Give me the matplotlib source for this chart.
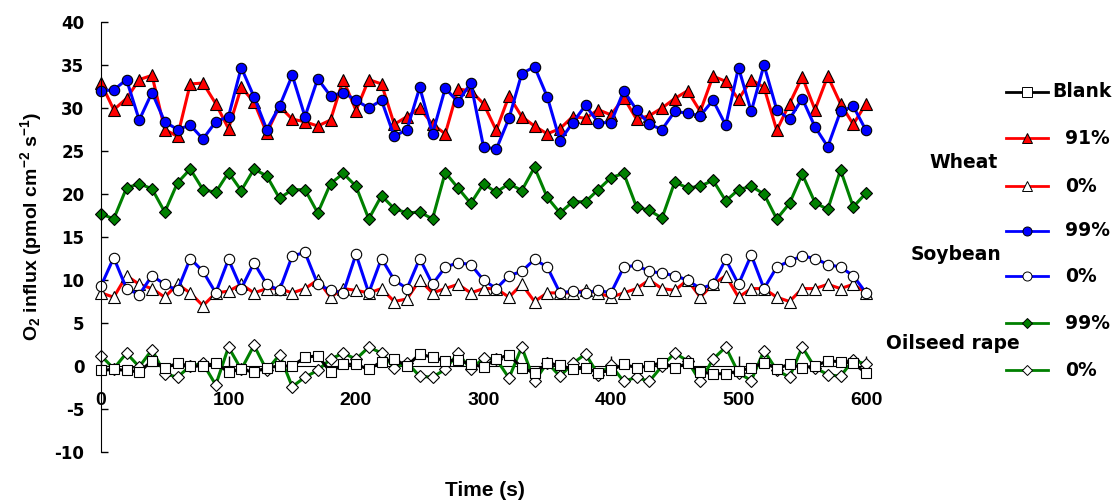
import matplotlib
matplotlib.use('Agg')
import matplotlib.pyplot as plt

time_s = list(range(0, 601, 10))

wheat_91 = [32.9, 29.8, 31.1, 33.3, 33.8, 27.5, 26.7, 32.8, 32.9, 30.5, 27.6, 32.4, 30.7, 27.1, 30.2, 28.7, 28.4, 27.9, 28.6, 33.3,
            29.7, 33.3, 32.8, 28.1, 29.0, 30.0, 28.1, 27.0, 32.2, 32.0, 30.5, 27.4, 31.4, 29.0, 27.9, 27.0, 27.6, 29.0, 28.8, 29.8,
            29.2, 31.2, 28.7, 29.1, 30.0, 31.1, 32.0, 29.6, 33.7, 33.1, 31.0, 33.3, 32.4, 27.4, 30.5, 33.6, 29.8, 33.7, 30.5, 28.1, 30.5]
wheat_0 = [8.5, 8.0, 10.5, 9.5, 9.0, 8.0, 9.5, 8.5, 7.0, 8.5, 8.7, 9.5, 8.5, 9.0, 9.0, 8.5, 9.0, 10.0, 8.0, 9.0,
           8.8, 8.5, 9.0, 7.5, 7.8, 10.0, 8.5, 9.0, 9.5, 8.5, 9.0, 9.0, 8.0, 9.5, 7.5, 8.5, 8.5, 8.5, 8.8, 8.5,
           8.0, 8.5, 9.0, 10.0, 9.0, 8.8, 10.0, 8.0, 9.5, 10.5, 8.0, 9.0, 9.0, 8.0, 7.5, 9.0, 9.0, 9.5, 9.0, 9.5, 8.5]
soy_99 = [32.0, 32.1, 33.3, 28.6, 31.8, 28.4, 27.5, 28.0, 26.4, 28.4, 29.0, 34.7, 31.3, 27.5, 30.2, 33.8, 29.0, 33.4, 31.4, 31.8,
          30.9, 30.0, 30.9, 26.7, 27.5, 32.4, 27.0, 32.3, 30.7, 32.9, 25.5, 25.2, 28.8, 34.0, 34.8, 31.3, 26.2, 28.3, 30.3, 28.3,
          28.3, 32.0, 29.8, 28.1, 27.5, 29.6, 29.4, 29.1, 30.9, 28.0, 34.7, 29.6, 35.0, 29.8, 28.7, 31.1, 27.8, 25.5, 29.6, 30.2, 27.4]
soy_0 = [9.3, 12.6, 9.0, 8.3, 10.5, 9.5, 8.8, 12.5, 11.0, 8.5, 12.4, 9.0, 12.0, 9.5, 8.8, 12.8, 13.2, 9.5, 8.8, 8.5,
         13.0, 8.5, 12.5, 10.0, 9.0, 12.5, 9.5, 11.5, 12.0, 11.8, 10.0, 9.0, 10.5, 11.0, 12.4, 11.5, 8.5, 8.7, 8.5, 8.8,
         8.5, 11.5, 11.7, 11.0, 10.8, 10.5, 10.0, 9.0, 9.5, 12.4, 9.5, 12.9, 9.0, 11.5, 12.2, 12.8, 12.5, 11.8, 11.5, 10.5, 8.5]
oil_99 = [17.7, 17.1, 20.7, 21.2, 20.6, 17.9, 21.3, 22.9, 20.5, 20.2, 22.5, 20.4, 22.9, 22.1, 19.5, 20.5, 20.5, 17.8, 21.2, 22.4,
          20.9, 17.1, 19.8, 18.3, 17.8, 17.9, 17.1, 22.5, 20.7, 18.9, 21.2, 20.2, 21.2, 20.4, 23.1, 19.6, 17.8, 19.1, 19.1, 20.5,
          21.9, 22.4, 18.5, 18.1, 17.2, 21.4, 20.7, 20.9, 21.6, 19.2, 20.5, 20.9, 20.0, 17.1, 18.9, 22.3, 19.0, 18.2, 22.8, 18.5, 20.1]
oil_0 = [1.2, -0.3, 1.5, -0.1, 1.9, -0.9, -1.3, 0.0, 0.3, -2.2, 2.2, -0.4, 2.4, -0.5, 1.3, -2.4, -1.3, -0.5, 0.8, 1.5,
         0.8, 2.2, 1.5, -0.2, 0.4, -1.2, -1.3, -0.4, 1.5, -0.4, 0.9, 0.8, -1.4, 2.2, -1.8, 0.4, -1.2, 0.3, 1.4, -1.0,
         0.1, -1.8, -1.3, -1.8, 0.0, 1.5, 0.6, -1.8, 0.8, 2.2, -0.8, -1.7, 1.8, -0.5, -1.3, 2.2, -0.2, -1.0, -1.2, 0.7, 0.2]
blank = [-0.5, -0.4, -0.5, -0.7, 0.6, -0.2, 0.3, 0.0, 0.0, 0.3, -0.7, -0.4, -0.7, -0.2, 0.0, 0.0, 1.0, 1.2, -0.7, 0.2,
         0.2, -0.4, 0.5, 0.8, 0.0, 1.4, 1.0, 0.6, 0.7, 0.2, -0.1, 0.8, 1.3, -0.2, -0.8, 0.3, 0.1, -0.4, -0.2, -0.8,
         -0.5, 0.2, -0.2, 0.0, 0.4, -0.2, 0.3, -0.7, -0.9, -0.9, -0.6, -0.2, 0.4, -0.3, 0.2, -0.2, 0.0, 0.6, 0.5, 0.3, -0.8]

x_ticks = [0, 100, 200, 300, 400, 500, 600]
y_ticks = [-10, -5, 0, 5, 10, 15, 20, 25, 30, 35, 40]

plt.rcParams['font.family'] = ['Liberation Sans', 'DejaVu Sans']
plt.rcParams['font.weight'] = 'bold'
plt.rcParams['axes.unicode_minus'] = False
plt.rcParams['mathtext.default'] = 'bf'
plt.rcParams['mathtext.fontset'] = 'custom'
plt.rcParams['mathtext.bf'] = 'Liberation Sans:bold'
plt.rcParams['mathtext.rm'] = 'Liberation Sans:bold'

WIDE = ['DejaVu Sans']

W, H = 1118, 504
fig = plt.figure(figsize=(W / 100, H / 100), dpi=100)
ax = fig.add_axes([101 / W, 1 - 452 / H, (866 - 101) / W, (452 - 22) / H])

RED, BLUE, GREEN = '#FF0000', '#0000FF', '#008000'
series = [
    (oil_0, GREEN, 'D', 'white', 6.0),
    (blank, 'black', 's', 'white', 7.5),
    (wheat_0, RED, '^', 'white', 8.0),
    (soy_0, BLUE, 'o', 'white', 7.5),
    (oil_99, GREEN, 'D', GREEN, 6.0),
    (wheat_91, RED, '^', RED, 8.5),
    (soy_99, BLUE, 'o', BLUE, 7.5),
]
for vals, col, mk, fc, ms in series:
    ax.plot(time_s, vals, color=col, lw=2.2, marker=mk, markersize=ms,
            markerfacecolor=fc, markeredgecolor='black', markeredgewidth=0.8, clip_on=False)

ax.set_xlim(0, 600)
ax.set_ylim(-10, 40)
ax.spines['top'].set_visible(False)
ax.spines['right'].set_visible(False)
ax.spines['bottom'].set_position(('data', 0))
ax.spines['bottom'].set_zorder(0)
ax.set_xticks(x_ticks)
ax.set_yticks(y_ticks)
ax.tick_params(axis='y', direction='in', length=5, width=1, pad=12, labelsize=12)
ax.tick_params(axis='x', direction='in', length=7, width=1, pad=19, labelsize=14)
for lab in ax.get_xticklabels():
    lab.set_fontweight('bold')
for lab in ax.get_yticklabels():
    lab.set_fontfamily(WIDE)
    lab.set_fontweight('bold')

fig.text(485 / W, 1 - 491 / H, 'Time (s)', ha='center', va='center', fontsize=15,
         fontweight='bold')
fig.text(31 / W, 1 - 226 / H, r'O$_2$ influx (pmol cm$^{-2}$ s$^{-1}$)', rotation=90,
         ha='center', va='center', fontsize=14, fontweight='bold')

# legend drawn in pixel space
lg = fig.add_axes([0, 0, 1, 1])
lg.set_xlim(0, W)
lg.set_ylim(H, 0)
lg.axis('off')
entries = [
    (91.7, 'black', 's', 'white', 'Blank', 1052),
    (138.3, RED, '^', RED, '91%', 1065),
    (186, RED, '^', 'white', '0%', 1065),
    (230.7, BLUE, 'o', BLUE, '99%', 1065),
    (276, BLUE, 'o', 'white', '0%', 1065),
    (323.3, GREEN, 'D', GREEN, '99%', 1065),
    (370, GREEN, 'D', 'white', '0%', 1065),
]
for y, col, mk, fc, txt, tx in entries:
    lg.plot([1006, 1048], [y, y], color=col, lw=2)
    lg.plot([1027], [y], marker=mk, color=col, markersize=6.5 if mk != 'D' else 5.5,
            markerfacecolor=fc, markeredgecolor='black', markeredgewidth=0.7)
    lg.text(tx, y, txt, ha='left', va='center', fontsize=13.5, fontweight='bold', family=WIDE)
for y, txt, xr in [(162.7, 'Wheat', 998), (255, 'Soybean', 1001), (343.3, 'Oilseed rape', 1020)]:
    lg.text(xr, y, txt, ha='right', va='center', fontsize=13.5, fontweight='bold', family=WIDE)

fig.savefig('out.png', dpi=100)
